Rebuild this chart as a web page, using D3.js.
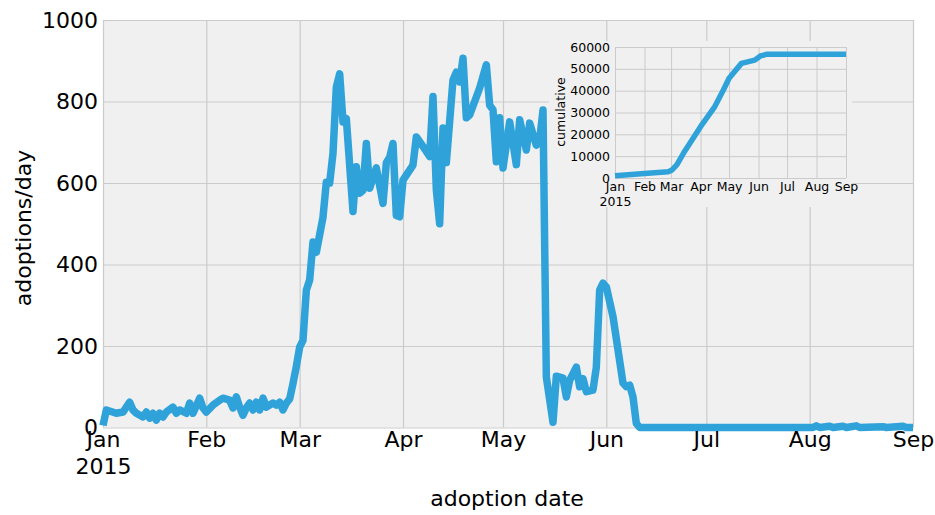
<!DOCTYPE html>
<html><head><meta charset="utf-8">
<script src="https://cdn.jsdelivr.net/npm/d3@7"></script>
<style>body{margin:0;background:#fff} svg{display:block} text{font-family:"DejaVu Sans",sans-serif}</style>
</head><body><svg id="c" width="935" height="515"></svg>
<script>
const dailyDates = ["2015-01-01","2015-01-02","2015-01-05","2015-01-07","2015-01-09","2015-01-10","2015-01-11","2015-01-13","2015-01-14","2015-01-15","2015-01-16","2015-01-17","2015-01-18","2015-01-19","2015-01-20","2015-01-22","2015-01-23","2015-01-24","2015-01-26","2015-01-27","2015-01-28","2015-01-30","2015-01-31",
"2015-02-01","2015-02-03","2015-02-05","2015-02-06","2015-02-08","2015-02-09","2015-02-10","2015-02-11","2015-02-12","2015-02-13","2015-02-14","2015-02-15","2015-02-16","2015-02-17","2015-02-18","2015-02-19","2015-02-21","2015-02-22","2015-02-23","2015-02-24","2015-02-25","2015-02-26","2015-02-27","2015-02-28",
"2015-03-01","2015-03-02","2015-03-03","2015-03-04","2015-03-05","2015-03-06","2015-03-08","2015-03-09","2015-03-10","2015-03-11","2015-03-12","2015-03-13","2015-03-14","2015-03-15","2015-03-17","2015-03-18","2015-03-19","2015-03-20","2015-03-21","2015-03-22","2015-03-24","2015-03-26","2015-03-27","2015-03-28","2015-03-29","2015-03-30","2015-03-31",
"2015-04-01","2015-04-04","2015-04-05","2015-04-07","2015-04-09","2015-04-10","2015-04-11","2015-04-12","2015-04-13","2015-04-14","2015-04-16","2015-04-17","2015-04-18","2015-04-19","2015-04-20","2015-04-21","2015-04-24","2015-04-26","2015-04-27","2015-04-28","2015-04-29","2015-04-30",
"2015-05-01","2015-05-03","2015-05-05","2015-05-06","2015-05-08","2015-05-09","2015-05-11","2015-05-12","2015-05-13","2015-05-14","2015-05-16","2015-05-17","2015-05-19","2015-05-20","2015-05-21","2015-05-23","2015-05-24","2015-05-25","2015-05-26","2015-05-28","2015-05-29","2015-05-30","2015-05-31",
"2015-06-01","2015-06-03","2015-06-06","2015-06-07","2015-06-08","2015-06-09","2015-06-10","2015-06-11",
"2015-08-02","2015-08-03","2015-08-04","2015-08-07","2015-08-08","2015-08-11","2015-08-12","2015-08-15","2015-08-16","2015-08-23","2015-08-24","2015-08-29","2015-08-30","2015-09-01"];
const dailyValues = [5,43,35,38,62,43,35,26,38,23,35,18,35,26,38,50,35,43,35,60,35,72,48,
38,55,67,72,67,48,75,50,30,48,60,43,62,43,72,50,60,55,62,43,60,70,108,150,
197,214,337,362,455,430,516,602,600,673,835,868,750,758,530,640,575,582,697,587,637,550,650,663,697,520,517,
607,644,713,690,665,812,583,500,735,650,853,872,848,906,760,767,833,890,791,780,652,760,
637,750,645,755,681,747,693,705,779,124,13,126,121,75,116,148,100,120,88,92,148,337,354,
345,272,109,100,104,75,10,0,
0,4,0,3,0,3,0,4,0,2,0,3,0,0];

const cumDates = ["2015-01-01","2015-02-01","2015-02-26","2015-03-02","2015-03-07","2015-03-14","2015-04-01","2015-04-16","2015-04-25","2015-05-01","2015-05-14","2015-05-28","2015-06-03","2015-06-10","2015-09-01"];
const cumValues = [1000,2100,2900,3700,6000,11300,23500,32700,40300,45700,52500,54000,55900,56700,56700];

const monthTicks = ["2015-01-01","2015-02-01","2015-03-01","2015-04-01","2015-05-01","2015-06-01","2015-07-01","2015-08-01","2015-09-01"];
const monthLabels = ["Jan\n2015","Feb","Mar","Apr","May","Jun","Jul","Aug","Sep"];
const yTicks = [0,200,400,600,800,1000];
const insetYTicks = [0,10000,20000,30000,40000,50000,60000];

const parse = d3.utcParse("%Y-%m-%d");
const svg = d3.select("#c");
const BLUE = "#30a2da", BG = "#f0f0f0", GRID = "#cbcbcb";

function splitLabels(sel) {
  sel.selectAll(".tick text").each(function(d, i) {
    const t = d3.select(this);
    const lines = monthLabels[i].split("\n");
    t.text(null);
    lines.forEach((ln, k) => {
      t.append("tspan").attr("x", 0).attr("dy", k === 0 ? "0.71em" : "1.2em").text(ln);
    });
  });
}

function panel(cfg) {
  const x = d3.scaleUtc().domain([parse(monthTicks[0]), parse(monthTicks[monthTicks.length-1])]).range([cfg.l, cfg.r]);
  const y = d3.scaleLinear().domain(cfg.yDomain).range([cfg.b, cfg.t]);
  const g = svg.append("g");
  if (cfg.cover) {
    g.append("rect").attr("x", cfg.cover[0]).attr("y", cfg.cover[1]).attr("width", cfg.cover[2]).attr("height", cfg.cover[3]).attr("fill", BG);
  }
  g.append("rect").attr("x", cfg.l).attr("y", cfg.t).attr("width", cfg.r - cfg.l).attr("height", cfg.b - cfg.t).attr("fill", BG);
  const md = monthTicks.map(parse);
  const gx = g.append("g").attr("transform", `translate(0,${cfg.b})`)
    .call(d3.axisBottom(x).tickValues(md).tickSize(-(cfg.b - cfg.t)).tickFormat(""));
  const gy = g.append("g").attr("transform", `translate(${cfg.l},0)`)
    .call(d3.axisLeft(y).tickValues(cfg.yTicks).tickSize(-(cfg.r - cfg.l)).tickFormat(""));
  [gx, gy].forEach(a => { a.select(".domain").remove(); a.selectAll("line").attr("stroke", GRID).attr("stroke-width", cfg.gw); });

  const line = d3.line().x((d, i) => x(parse(cfg.dates[i]))).y((d) => y(d));
  g.append("path").datum(cfg.values).attr("d", line).attr("fill", "none")
    .attr("stroke", BLUE).attr("stroke-width", cfg.lw).attr("stroke-linejoin", "round");

  const lx = g.append("g").attr("transform", `translate(0,${cfg.b})`)
    .call(d3.axisBottom(x).tickValues(md).tickSize(0).tickPadding(cfg.pad).tickFormat((d, i) => monthLabels[i]));
  lx.select(".domain").remove();
  lx.selectAll("text").attr("font-size", cfg.fs).attr("fill", "#000").attr("font-family", "DejaVu Sans");
  splitLabels(lx);
  const ly = g.append("g").attr("transform", `translate(${cfg.l},0)`)
    .call(d3.axisLeft(y).tickValues(cfg.yTicks).tickSize(0).tickPadding(cfg.ypad).tickFormat(d3.format("d")));
  ly.select(".domain").remove();
  ly.selectAll("text").attr("font-size", cfg.fs).attr("fill", "#000").attr("font-family", "DejaVu Sans");
  return g;
}

panel({l: 103, r: 913, t: 20, b: 427.5, yDomain: [0, 1000], yTicks: yTicks, dates: dailyDates, values: dailyValues,
  lw: 7.5, gw: 1.2, fs: 22, pad: 4, ypad: 5});

svg.append("text").attr("x", 507).attr("y", 506).attr("text-anchor", "middle").attr("font-size", 22).text("adoption date");
svg.append("text").attr("transform", "translate(31,228) rotate(-90)").attr("text-anchor", "middle").attr("font-size", 22).text("adoptions/day");

// inset (drawn on its own opaque background, which hides the main grid beneath it)
panel({l: 615, r: 846, t: 47, b: 178, yDomain: [0, 60000], yTicks: insetYTicks, dates: cumDates, values: cumValues,
  lw: 5.5, gw: 1, fs: 12.5, pad: 4.5, ypad: 5, cover: [549, 41, 303, 166]});
svg.append("text").attr("transform", "translate(565,112) rotate(-90)").attr("text-anchor", "middle").attr("font-size", 12.5).text("cumulative");
</script></body></html>
